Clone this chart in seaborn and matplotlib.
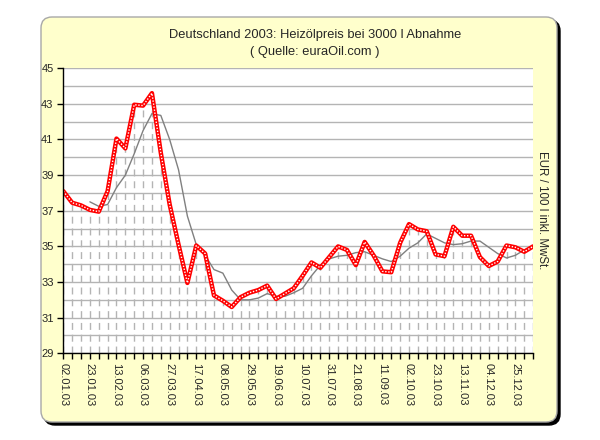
import numpy as np
import pandas as pd
import matplotlib
matplotlib.use("Agg")
import matplotlib.pyplot as plt
import seaborn as sns
from matplotlib.patches import FancyBboxPatch

# ---- data (weekly categories, 02.01.03 ... ) ----
wochen = list(range(54))
preis = [38.1, 37.45, 37.3, 37.05, 36.95, 38.1, 41.05, 40.5, 42.95, 42.9,
         43.6, 40.25, 37.35, 35.1, 32.95, 35.05, 34.6, 32.25, 31.95, 31.6,
         32.15, 32.4, 32.55, 32.8, 32.05, 32.35, 32.65, 33.35, 34.1, 33.8,
         34.4, 35.0, 34.8, 33.95, 35.25, 34.5, 33.6, 33.55, 35.2, 36.25,
         35.95, 35.85, 34.55, 34.45, 36.1, 35.6, 35.6, 34.4, 33.9, 34.15,
         35.05, 34.95, 34.7, 35.0]
gleitend = [np.nan, np.nan, np.nan, 37.5, 37.25, 37.35, 38.3, 39.0, 40.2, 41.5,
            42.45, 42.35, 41.0, 39.3, 36.7, 35.1, 34.5, 33.7, 33.5, 32.55,
            32.0, 32.0, 32.1, 32.35, 32.2, 32.2, 32.4, 32.65, 33.35, 33.95,
            34.3, 34.45, 34.5, 34.65, 34.7, 34.5, 34.3, 34.15, 34.45, 34.9,
            35.2, 35.7, 35.45, 35.2, 35.1, 35.15, 35.3, 35.3, 34.95, 34.6,
            34.35, 34.5, 34.8, 35.0]
label_pos = list(range(0, 54, 3))
label_txt = ["02.01.03", "23.01.03", "13.02.03", "06.03.03", "27.03.03",
             "17.04.03", "08.05.03", "29.05.03", "19.06.03", "10.07.03",
             "31.07.03", "21.08.03", "11.09.03", "02.10.03", "23.10.03",
             "13.11.03", "04.12.03", "25.12.03"]
y_major = list(range(29, 46, 2))
y_minor = list(range(29, 46, 1))

titel1 = "Deutschland 2003: Heizölpreis bei 3000 l Abnahme"
titel2 = "( Quelle: euraOil.com )"
einheit = "EUR / 100 l inkl. MwSt."

df = pd.DataFrame({"woche": wochen, "preis": preis, "gleitend": gleitend})

sns.set_style("white")
plt.rcParams["font.family"] = ["Liberation Sans", "DejaVu Sans"]

fig = plt.figure(figsize=(6, 4.4), dpi=100)
fig.patch.set_facecolor("white")

# chart area box (rounded, with shadow) in inches
bx0, by0, bw, bh = 0.41, 0.18, 5.16, 4.05
shadow = FancyBboxPatch((bx0 + 0.03, by0 - 0.03), bw, bh,
                        boxstyle="round,pad=0,rounding_size=0.11",
                        transform=fig.dpi_scale_trans, facecolor="black",
                        edgecolor="black", lw=1, zorder=0)
box = FancyBboxPatch((bx0, by0), bw, bh,
                     boxstyle="round,pad=0,rounding_size=0.11",
                     transform=fig.dpi_scale_trans, facecolor="#FFFFCC",
                     edgecolor="#A8A8A8", lw=1, zorder=1)
fig.patches.extend([shadow, box])

ax = fig.add_axes([0.1055, 0.197, 0.783, 0.648])
ax.set_facecolor("white")
ax.set_zorder(2)

ax.set_xlim(0, 53)
ax.set_ylim(29, 45)

# grid
ax.set_yticks(y_major)
ax.set_yticks(y_minor, minor=True)
ax.yaxis.grid(True, which="both", color="#B4B4B4", lw=1)
ax.xaxis.grid(False)
ax.set_axisbelow(True)

# drop lines
ax.vlines(df["woche"], 29, df["preis"], colors="#B4B4B4",
          linestyles=(0, (5, 3.5)), lw=1, zorder=2)

sns.lineplot(data=df, x="woche", y="gleitend", ax=ax, color="#808080",
             lw=1, zorder=3)
sns.lineplot(data=df, x="woche", y="preis", ax=ax, color="#FF0000",
             lw=3.2, zorder=4)
ax.plot(df["woche"], df["preis"], color="white", lw=1.0,
        linestyle=(0, (1, 1.2)), zorder=5)

ax.set_xlabel("")
ax.set_ylabel("")

ax.set_xticks(label_pos)
ax.set_xticklabels(label_txt, rotation=270, fontsize=8)
ax.set_xticks(wochen, minor=True)
ax.set_yticklabels([str(v) for v in y_major], fontsize=8)

ax.tick_params(axis="x", which="both", direction="out", length=4,
               width=1, color="black", pad=3, bottom=True)
ax.tick_params(axis="y", which="major", direction="out", length=4,
               width=1, color="black", pad=3, left=True)
ax.tick_params(axis="y", which="minor", length=0)

for s in ["top", "right"]:
    ax.spines[s].set_visible(False)
for s in ["left", "bottom"]:
    ax.spines[s].set_color("black")
    ax.spines[s].set_linewidth(1)
    ax.spines[s].set_zorder(6)

fig.text(0.525, 0.920, titel1, ha="center", va="center", fontsize=9.3)
fig.text(0.525, 0.882, titel2, ha="center", va="center", fontsize=9.3)
fig.text(0.904, 0.523, einheit, rotation=270, ha="center", va="center",
         fontsize=8.3)

fig.savefig("out.png", dpi=100)
